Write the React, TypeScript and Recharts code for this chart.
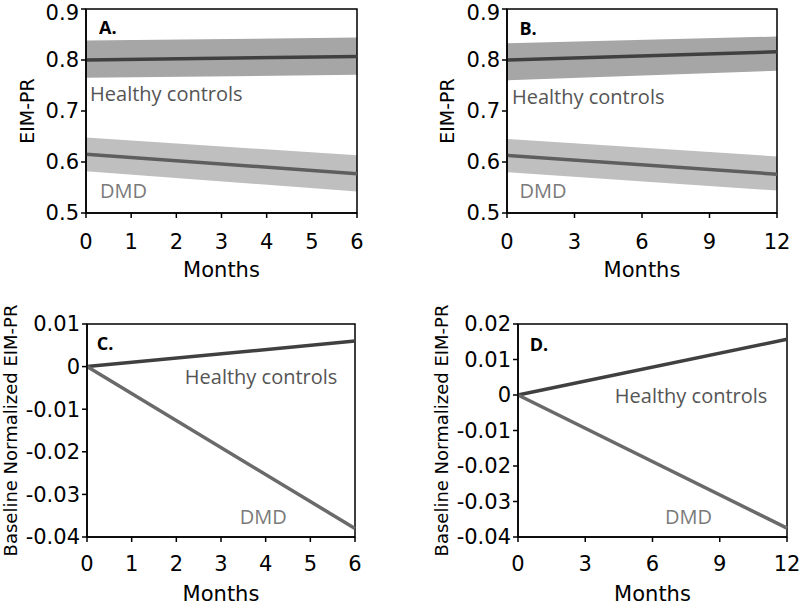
import React from "react";
import { ComposedChart, Area, Line, XAxis, YAxis, ReferenceArea, ReferenceDot } from "recharts";

// months on the x axis
const monthsShort = [0, 6];
const monthsLong = [0, 12];
const ticksShort = [0, 1, 2, 3, 4, 5, 6];
const ticksLong = [0, 3, 6, 9, 12];

// A: 6 month fit with 95% bands
const hcFitA = [0.8, 0.807];
const hcBandA = [[0.765, 0.838], [0.771, 0.844]];
const dmdFitA = [0.615, 0.577];
const dmdBandA = [[0.582, 0.648], [0.542, 0.613]];

// B: 12 month fit with 95% bands
const hcFitB = [0.8, 0.816];
const hcBandB = [[0.76, 0.833], [0.779, 0.846]];
const dmdFitB = [0.613, 0.576];
const dmdBandB = [[0.58, 0.645], [0.544, 0.611]];

// C / D: baseline normalized change
const hcNormC = [0, 0.006];
const dmdNormC = [0, -0.038];
const hcNormD = [0, 0.0157];
const dmdNormD = [0, -0.0375];

const yTicksRaw = [0.5, 0.6, 0.7, 0.8, 0.9];
const yTicksC = [-0.04, -0.03, -0.02, -0.01, 0, 0.01];
const yTicksD = [-0.04, -0.03, -0.02, -0.01, 0, 0.01, 0.02];

const tableA = monthsShort.map((m, i) => ({
  month: m,
  hcFit: hcFitA[i],
  hcBand: hcBandA[i],
  dmdFit: dmdFitA[i],
  dmdBand: dmdBandA[i],
}));
const tableB = monthsLong.map((m, i) => ({
  month: m,
  hcFit: hcFitB[i],
  hcBand: hcBandB[i],
  dmdFit: dmdFitB[i],
  dmdBand: dmdBandB[i],
}));
const tableC = monthsShort.map((m, i) => ({ month: m, hcFit: hcNormC[i], dmdFit: dmdNormC[i] }));
const tableD = monthsLong.map((m, i) => ({ month: m, hcFit: hcNormD[i], dmdFit: dmdNormD[i] }));

const AXIS_FONT = "DejaVu Sans";
const NOTE_FONT = "Open Sans";
const HC_LINE = "#404040";
const DMD_LINE = "#5e5e5e";
const HC_BAND = "#a6a6a6";
const DMD_BAND = "#bfbfbf";
const HC_TEXT = "#555555";
const DMD_TEXT = "#7a7a7a";

function yTitle(p: any, text: string, x: number, size: number) {
  const vb = p && p.viewBox;
  if (!vb) return null;
  const cy = vb.y + vb.height / 2;
  return (
    <text
      x={x}
      y={cy}
      transform={`rotate(-90 ${x} ${cy})`}
      textAnchor="middle"
      dominantBaseline="central"
      fontFamily={AXIS_FONT}
      fontSize={size}
      fill="#000"
    >
      {text}
    </text>
  );
}

function xTitle(p: any, dy: number) {
  const vb = p && p.viewBox;
  if (!vb) return null;
  return (
    <text
      x={vb.x + vb.width / 2}
      y={vb.y + dy}
      textAnchor="middle"
      fontFamily={AXIS_FONT}
      fontSize={21}
      fill="#000"
    >
      Months
    </text>
  );
}

interface Note {
  x: number;
  y: number;
}

interface PanelProps {
  left: number;
  top: number;
  width: number;
  height: number;
  margin: { top: number; right: number; left: number; bottom: number };
  yWidth: number;
  xHeight: number;
  data: any[];
  xMax: number;
  xTicks: number[];
  yDomain: [number, number];
  yTicks: number[];
  bands: boolean;
  yLabel: string;
  yLabelX: number;
  yLabelSize: number;
  tickGap: number;
  tag: string;
  tagAt: Note;
  hcAt: Note;
  dmdAt: Note;
}

function Panel(props: PanelProps) {
  const {
    left, top, width, height, margin, yWidth, xHeight, data, xMax, xTicks,
    yDomain, yTicks, bands, yLabel, yLabelX, yLabelSize, tickGap, tag, tagAt, hcAt, dmdAt,
  } = props;
  const tick = { fontSize: 21, fill: "#000", fontFamily: AXIS_FONT };
  return (
    <div style={{ position: "absolute", left, top }}>
      <ComposedChart width={width} height={height} data={data} margin={margin}>
        <XAxis
          dataKey="month"
          type="number"
          domain={[0, xMax]}
          ticks={xTicks}
          height={xHeight}
          tick={tick}
          tickSize={5}
          tickMargin={tickGap}
          axisLine={{ stroke: "#000", strokeWidth: 1.5 }}
          tickLine={{ stroke: "#000", strokeWidth: 1.5 }}
          label={(p: any) => xTitle(p, 64)}
        />
        <YAxis
          type="number"
          domain={yDomain}
          ticks={yTicks}
          width={yWidth}
          tick={tick}
          tickSize={5}
          tickMargin={2}
          axisLine={{ stroke: "#000", strokeWidth: 1.5 }}
          tickLine={{ stroke: "#000", strokeWidth: 1.5 }}
          label={(p: any) => yTitle(p, yLabel, yLabelX, yLabelSize)}
        />
        {bands && (
          <Area
            dataKey="hcBand"
            type="linear"
            stroke="none"
            fill={HC_BAND}
            fillOpacity={1}
            isAnimationActive={false}
          />
        )}
        {bands && (
          <Area
            dataKey="dmdBand"
            type="linear"
            stroke="none"
            fill={DMD_BAND}
            fillOpacity={1}
            isAnimationActive={false}
          />
        )}
        <Line
          dataKey="hcFit"
          type="linear"
          stroke={HC_LINE}
          strokeWidth={3.5}
          dot={false}
          activeDot={false}
          isAnimationActive={false}
        />
        <Line
          dataKey="dmdFit"
          type="linear"
          stroke={bands ? DMD_LINE : "#6a6a6a"}
          strokeWidth={3.5}
          dot={false}
          activeDot={false}
          isAnimationActive={false}
        />
        <ReferenceArea
          x1={0}
          x2={xMax}
          y1={yDomain[0]}
          y2={yDomain[1]}
          fill="none"
          stroke="#000"
          strokeWidth={1.5}
        />
        <ReferenceDot
          x={tagAt.x}
          y={tagAt.y}
          r={0}
          fill="none"
          stroke="none"
          label={{ value: tag, position: "right", offset: 0, fill: "#000", fontSize: 18, fontWeight: 700, fontFamily: NOTE_FONT }}
        />
        <ReferenceDot
          x={hcAt.x}
          y={hcAt.y}
          r={0}
          fill="none"
          stroke="none"
          label={{ value: "Healthy controls", position: "right", offset: 0, fill: HC_TEXT, fontSize: 20, fontFamily: NOTE_FONT }}
        />
        <ReferenceDot
          x={dmdAt.x}
          y={dmdAt.y}
          r={0}
          fill="none"
          stroke="none"
          label={{ value: "DMD", position: "right", offset: 0, fill: DMD_TEXT, fontSize: 20, fontFamily: NOTE_FONT }}
        />
      </ComposedChart>
    </div>
  );
}

export default function App() {
  return (
    <div
      style={{
        position: "absolute",
        left: 0,
        top: 0,
        width: 800,
        height: 605,
        background: "#fff",
        overflow: "hidden",
        fontFamily: AXIS_FONT,
      }}
    >
      <Panel
        left={0}
        top={0}
        width={400}
        height={300}
        margin={{ top: 9, right: 43, left: 0, bottom: 0 }}
        yWidth={86}
        xHeight={87}
        data={tableA}
        xMax={6}
        xTicks={ticksShort}
        yDomain={[0.5, 0.9]}
        yTicks={yTicksRaw}
        bands={true}
        yLabel="EIM-PR"
        yLabelX={27}
        yLabelSize={19}
        tickGap={16}
        tag="A."
        tagAt={{ x: 0.29, y: 0.863 }}
        hcAt={{ x: 0.09, y: 0.734 }}
        dmdAt={{ x: 0.31, y: 0.544 }}
      />
      <Panel
        left={400}
        top={0}
        width={400}
        height={300}
        margin={{ top: 9, right: 23, left: 0, bottom: 0 }}
        yWidth={107}
        xHeight={87}
        data={tableB}
        xMax={12}
        xTicks={ticksLong}
        yDomain={[0.5, 0.9]}
        yTicks={yTicksRaw}
        bands={true}
        yLabel="EIM-PR"
        yLabelX={47}
        yLabelSize={19}
        tickGap={16}
        tag="B."
        tagAt={{ x: 0.55, y: 0.861 }}
        hcAt={{ x: 0.22, y: 0.727 }}
        dmdAt={{ x: 0.55, y: 0.544 }}
      />
      <Panel
        left={0}
        top={300}
        width={400}
        height={305}
        margin={{ top: 24, right: 45, left: 0, bottom: 0 }}
        yWidth={87}
        xHeight={68}
        data={tableC}
        xMax={6}
        xTicks={ticksShort}
        yDomain={[-0.04, 0.01]}
        yTicks={yTicksC}
        bands={false}
        yLabel="Baseline Normalized EIM-PR"
        yLabelX={10}
        yLabelSize={18}
        tickGap={14}
        tag="C."
        tagAt={{ x: 0.22, y: 0.0053 }}
        hcAt={{ x: 2.19, y: -0.0024 }}
        dmdAt={{ x: 3.42, y: -0.0352 }}
      />
      <Panel
        left={400}
        top={300}
        width={400}
        height={305}
        margin={{ top: 24, right: 13, left: 0, bottom: 0 }}
        yWidth={118}
        xHeight={68}
        data={tableD}
        xMax={12}
        xTicks={ticksLong}
        yDomain={[-0.04, 0.02]}
        yTicks={yTicksD}
        bands={false}
        yLabel="Baseline Normalized EIM-PR"
        yLabelX={41}
        yLabelSize={18}
        tickGap={14}
        tag="D."
        tagAt={{ x: 0.52, y: 0.0141 }}
        hcAt={{ x: 4.32, y: -0.0003 }}
        dmdAt={{ x: 6.56, y: -0.0342 }}
      />
    </div>
  );
}
